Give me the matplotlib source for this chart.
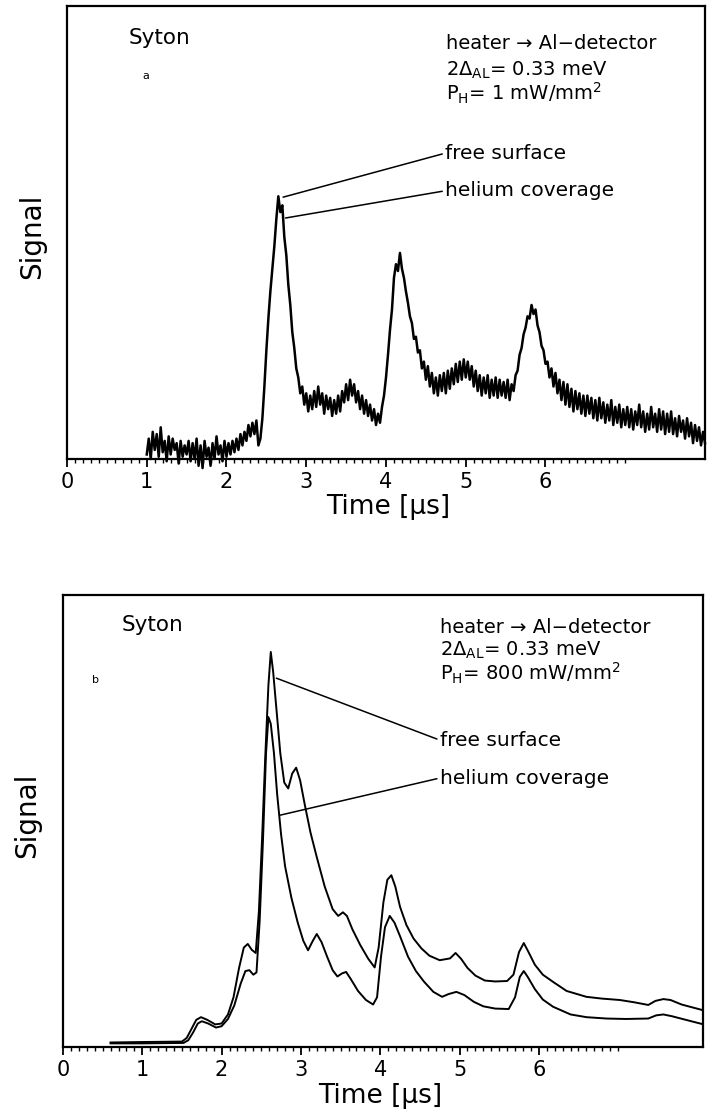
import numpy as np
import matplotlib
matplotlib.use('Agg')
import matplotlib.pyplot as plt

plt.rcParams['font.family'] = ['DejaVu Sans']
plt.rcParams['mathtext.fontset'] = 'dejavusans'

# panel a: noisy trace, sampled every 0.025 us from 1.0 to 8.0
trace_a_start = 1.0
trace_a_step = 0.025
trace_a = [
    0.010, 0.045, 0.000, 0.060, 0.020, 0.055, 0.005, 0.070, 0.015, 0.040, -0.005, 0.050, 0.010, 0.045, 0.020, 0.035, -0.010, 0.040, 0.005, 0.030,
    0.010, 0.040, -0.005, 0.035, 0.000, 0.045, -0.015, 0.030, -0.020, 0.040, 0.005, 0.025, -0.015, 0.035, 0.000, 0.050, 0.010, 0.030, -0.005, 0.040,
    0.005, 0.035, 0.010, 0.040, 0.015, 0.045, 0.020, 0.055, 0.030, 0.060, 0.040, 0.075, 0.050, 0.080, 0.055, 0.085, 0.030, 0.045, 0.090, 0.160,
    0.240, 0.310, 0.370, 0.420, 0.470, 0.530, 0.580, 0.545, 0.560, 0.490, 0.450, 0.385, 0.340, 0.280, 0.245, 0.200, 0.180, 0.145, 0.160, 0.120,
    0.145, 0.105, 0.140, 0.110, 0.150, 0.115, 0.160, 0.120, 0.145, 0.100, 0.140, 0.110, 0.135, 0.095, 0.130, 0.100, 0.140, 0.105, 0.150, 0.125,
    0.165, 0.130, 0.175, 0.140, 0.165, 0.125, 0.150, 0.110, 0.140, 0.100, 0.130, 0.095, 0.120, 0.085, 0.110, 0.075, 0.100, 0.080, 0.115, 0.140,
    0.180, 0.230, 0.285, 0.330, 0.400, 0.430, 0.415, 0.455, 0.420, 0.400, 0.370, 0.345, 0.315, 0.300, 0.265, 0.270, 0.235, 0.240, 0.200, 0.215,
    0.175, 0.205, 0.160, 0.190, 0.145, 0.180, 0.140, 0.185, 0.150, 0.190, 0.145, 0.195, 0.155, 0.200, 0.165, 0.210, 0.170, 0.215, 0.175, 0.220,
    0.180, 0.215, 0.175, 0.205, 0.160, 0.195, 0.150, 0.185, 0.140, 0.180, 0.145, 0.185, 0.135, 0.175, 0.140, 0.180, 0.135, 0.175, 0.140, 0.170,
    0.135, 0.175, 0.130, 0.165, 0.150, 0.185, 0.195, 0.230, 0.245, 0.275, 0.290, 0.315, 0.310, 0.340, 0.320, 0.330, 0.295, 0.280, 0.250, 0.240,
    0.210, 0.215, 0.180, 0.200, 0.160, 0.190, 0.145, 0.175, 0.130, 0.170, 0.120, 0.165, 0.115, 0.155, 0.105, 0.150, 0.110, 0.145, 0.100, 0.140,
    0.095, 0.140, 0.100, 0.135, 0.090, 0.130, 0.085, 0.135, 0.090, 0.125, 0.080, 0.120, 0.085, 0.130, 0.075, 0.115, 0.080, 0.120, 0.070, 0.110,
    0.075, 0.115, 0.070, 0.110, 0.065, 0.105, 0.075, 0.120, 0.070, 0.105, 0.060, 0.100, 0.065, 0.115, 0.070, 0.100, 0.060, 0.110, 0.065, 0.105,
    0.055, 0.100, 0.060, 0.105, 0.055, 0.090, 0.050, 0.095, 0.060, 0.085, 0.045, 0.090, 0.050, 0.080, 0.035, 0.075, 0.040, 0.070, 0.030, 0.060,
    0.035,
]

# panel b: free surface (upper) and helium coverage (lower)
free_t = [0.60, 1.00, 1.50, 1.56, 1.62, 1.68, 1.74, 1.82, 1.92, 2.00, 2.08, 2.15, 2.22, 2.28, 2.33, 2.38, 2.43, 2.47,
          2.51, 2.55, 2.59, 2.62, 2.65, 2.69, 2.74, 2.79, 2.84, 2.89, 2.94, 2.99, 3.05, 3.12, 3.20, 3.30, 3.40, 3.47,
          3.53, 3.58, 3.65, 3.75, 3.85, 3.93, 3.98, 4.04, 4.09, 4.14, 4.19, 4.25, 4.33, 4.42, 4.52, 4.62, 4.75, 4.88,
          4.95, 5.02, 5.10, 5.20, 5.32, 5.45, 5.60, 5.68, 5.75, 5.81, 5.87, 5.95, 6.05, 6.18, 6.35, 6.60, 6.80, 7.02,
          7.20, 7.38, 7.47, 7.57, 7.66, 7.80, 7.95, 8.10]
free_v = [0.010, 0.011, 0.012, 0.020, 0.040, 0.060, 0.066, 0.060, 0.050, 0.052, 0.072, 0.110, 0.175, 0.220, 0.228, 0.215, 0.208, 0.300,
          0.460, 0.640, 0.800, 0.874, 0.830, 0.750, 0.650, 0.585, 0.572, 0.605, 0.618, 0.590, 0.535, 0.475, 0.420, 0.355, 0.305, 0.290,
          0.298, 0.290, 0.260, 0.225, 0.195, 0.176, 0.220, 0.320, 0.370, 0.380, 0.355, 0.310, 0.270, 0.240, 0.218, 0.202, 0.192, 0.196,
          0.208, 0.195, 0.175, 0.158, 0.147, 0.145, 0.146, 0.160, 0.210, 0.230, 0.210, 0.182, 0.160, 0.144, 0.124, 0.111, 0.107, 0.104,
          0.099, 0.093, 0.102, 0.106, 0.104, 0.094, 0.087, 0.080]

helium_t = [0.60, 1.00, 1.52, 1.58, 1.64, 1.70, 1.75, 1.83, 1.93, 2.00, 2.08, 2.16, 2.24, 2.30, 2.35, 2.40, 2.44, 2.48,
            2.52, 2.56, 2.59, 2.62, 2.66, 2.70, 2.75, 2.80, 2.88, 2.96, 3.03, 3.09, 3.15, 3.20, 3.26, 3.33, 3.40, 3.46,
            3.52, 3.57, 3.63, 3.72, 3.82, 3.91, 3.96, 4.01, 4.06, 4.12, 4.18, 4.25, 4.35, 4.45, 4.55, 4.67, 4.78, 4.86,
            4.96, 5.06, 5.18, 5.30, 5.45, 5.62, 5.70, 5.76, 5.81, 5.86, 5.95, 6.05, 6.18, 6.40, 6.60, 6.85, 7.10, 7.38,
            7.48, 7.57, 7.68, 7.90, 8.10]
helium_v = [0.008, 0.008, 0.009, 0.015, 0.032, 0.052, 0.057, 0.052, 0.043, 0.046, 0.062, 0.092, 0.140, 0.168, 0.170, 0.160, 0.165, 0.280,
            0.450, 0.650, 0.730, 0.715, 0.650, 0.560, 0.470, 0.400, 0.330, 0.275, 0.235, 0.214, 0.235, 0.250, 0.232, 0.200, 0.170, 0.156,
            0.163, 0.166, 0.150, 0.124, 0.104, 0.094, 0.110, 0.200, 0.265, 0.290, 0.275, 0.245, 0.200, 0.168, 0.145, 0.122, 0.111, 0.117,
            0.122, 0.115, 0.100, 0.090, 0.085, 0.084, 0.110, 0.155, 0.168, 0.155, 0.128, 0.105, 0.089, 0.072, 0.066, 0.063, 0.062, 0.063,
            0.070, 0.072, 0.068, 0.058, 0.049]

tick_vals = [0, 1, 2, 3, 4, 5, 6]
tick_text = ['0', '1', '2', '3', '4', '5', '6']

W, H = 707, 1112


def style_axes(ax, xmax):
    ax.set_xlim(0, xmax)
    ax.set_ylim(0, 1)
    ax.set_yticks([])
    ax.set_xticks(tick_vals)
    ax.set_xticklabels(tick_text, fontsize=15)
    ax.set_xticks(np.arange(0, 7.01, 0.1), minor=True)
    ax.tick_params(axis='x', which='major', direction='out', length=6, width=1.3, pad=3)
    ax.tick_params(axis='x', which='minor', direction='out', length=3, width=1.0)
    for sp in ax.spines.values():
        sp.set_linewidth(1.6)


def label_block(ax, x, ys, lines):
    for y, s in zip(ys, lines):
        ax.text(x, y, s, transform=ax.transAxes, fontsize=14, ha='left', va='center')


def leader(ax, text, tip, at):
    ax.annotate(text, xy=tip, xytext=at, fontsize=14.5, ha='left', va='center',
                arrowprops=dict(arrowstyle='-', lw=1.1, color='black', relpos=(0, 0.5),
                                shrinkA=0, shrinkB=0))


fig = plt.figure(figsize=(W / 100, H / 100), dpi=100)

# ---- panel a ----
ax1 = fig.add_axes([67 / W, 1 - 459 / H, 638 / W, 453 / H])
t_a = trace_a_start + trace_a_step * np.arange(len(trace_a))
ax1.plot(t_a, trace_a, color='black', lw=1.8, clip_on=False)
style_axes(ax1, 8.0)
ax1.text(0.096, 0.929, 'Syton', transform=ax1.transAxes, fontsize=15.5, va='center')
ax1.text(0.118, 0.845, 'a', transform=ax1.transAxes, fontsize=8, va='center')
label_block(ax1, 0.594, [0.918, 0.859, 0.806],
            ['heater \u2192 Al\u2212detector',
             r'2$\Delta_{\mathrm{AL}}$= 0.33 meV',
             r'P$_{\mathrm{H}}$= 1 mW/mm$^{2}$'])
leader(ax1, 'free surface', (2.71, 0.578), (4.74, 0.675))
leader(ax1, 'helium coverage', (2.74, 0.532), (4.74, 0.592))

# ---- panel b ----
ax2 = fig.add_axes([63 / W, 1 - 1047 / H, 640 / W, 452 / H])
ax2.plot(free_t, free_v, color='black', lw=1.4)
ax2.plot(helium_t, helium_v, color='black', lw=1.4)
style_axes(ax2, 8.07)
ax2.text(0.092, 0.934, 'Syton', transform=ax2.transAxes, fontsize=15.5, va='center')
ax2.text(0.045, 0.812, 'b', transform=ax2.transAxes, fontsize=8, va='center')
label_block(ax2, 0.589, [0.929, 0.878, 0.827],
            ['heater \u2192 Al\u2212detector',
             r'2$\Delta_{\mathrm{AL}}$= 0.33 meV',
             r'P$_{\mathrm{H}}$= 800 mW/mm$^{2}$'])
leader(ax2, 'free surface', (2.69, 0.816), (4.75, 0.679))
leader(ax2, 'helium coverage', (2.74, 0.513), (4.75, 0.595))

# axis titles placed in figure pixels
for (x, y) in [(32, 236), (27, 815)]:
    fig.text(x / W, 1 - y / H, 'Signal', rotation=90, fontsize=20, ha='center', va='center')
for (x, y) in [(388, 507), (380, 1096)]:
    fig.text(x / W, 1 - y / H, 'Time [\u00b5s]', fontsize=19, ha='center', va='center')

fig.savefig('out.png', dpi=100)
